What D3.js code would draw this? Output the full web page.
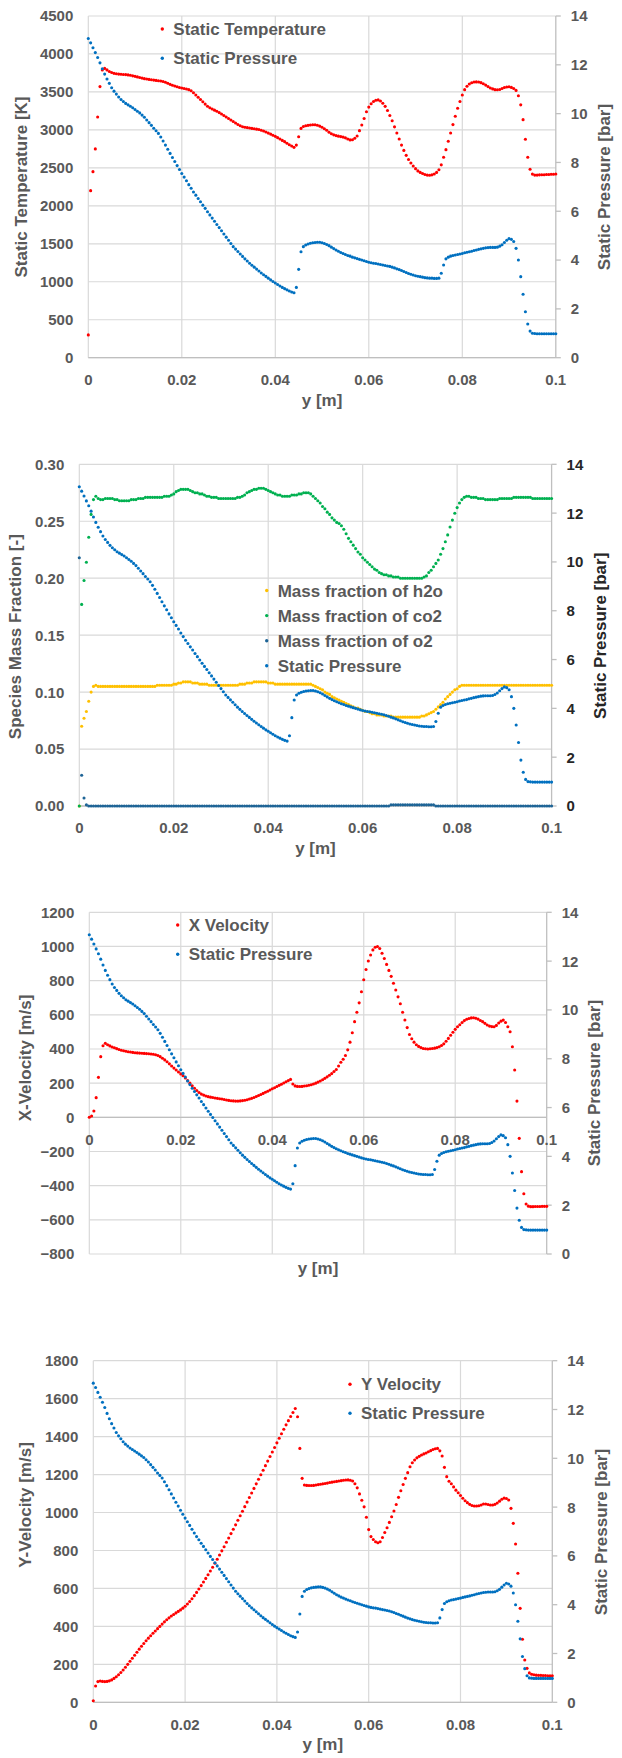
<!DOCTYPE html>
<meta charset="utf-8">
<style>
body { margin: 0; background: #fff; }
svg text { font-family: "Liberation Sans", Arial, sans-serif; font-weight: bold; fill: #595959; }
</style>
<svg width="622" height="1758"></svg>
<script src="https://d3js.org/d3.v7.min.js"></script>
<script>
"use strict";

// sample spacing along y [m] (201 points from 0 to 0.1)
var yStep = 0.0005;
var positions = d3.range(201).map(function(i) { return +(i * yStep).toFixed(4); });

// tick labels
var xTicks = [0, 0.02, 0.04, 0.06, 0.08, 0.1];
var pressureTicks = [0, 2, 4, 6, 8, 10, 12, 14];
var temperatureTicks = [0, 500, 1000, 1500, 2000, 2500, 3000, 3500, 4000, 4500];
var fractionTicks = [0, 0.05, 0.10, 0.15, 0.20, 0.25, 0.30];
var xVelocityTicks = [-800, -600, -400, -200, 0, 200, 400, 600, 800, 1000, 1200];
var yVelocityTicks = [0, 200, 400, 600, 800, 1000, 1200, 1400, 1600, 1800];

// static pressure [bar]
var pressure = [
  13.08, 12.90, 12.70, 12.50, 12.30, 12.08, 11.84, 11.62, 11.42, 11.24,
  11.06, 10.92, 10.80, 10.68, 10.58, 10.50, 10.42, 10.36, 10.30, 10.24,
  10.17, 10.10, 10.03, 9.94, 9.85, 9.74, 9.63, 9.52, 9.40, 9.30,
  9.19, 9.04, 8.88, 8.71, 8.54, 8.37, 8.20, 8.04, 7.87, 7.71,
  7.55, 7.40, 7.25, 7.09, 6.94, 6.79, 6.66, 6.52, 6.39, 6.25,
  6.12, 5.98, 5.85, 5.72, 5.59, 5.46, 5.33, 5.20, 5.07, 4.94,
  4.81, 4.68, 4.55, 4.45, 4.35, 4.25, 4.15, 4.05, 3.96, 3.87,
  3.79, 3.71, 3.63, 3.55, 3.47, 3.40, 3.33, 3.26, 3.19, 3.12,
  3.06, 3.00, 2.94, 2.88, 2.83, 2.78, 2.73, 2.69, 2.66, 2.88,
  3.62, 4.34, 4.55, 4.62, 4.66, 4.69, 4.71, 4.72, 4.73, 4.73,
  4.71, 4.68, 4.64, 4.59, 4.53, 4.47, 4.41, 4.36, 4.31, 4.27,
  4.23, 4.19, 4.16, 4.12, 4.09, 4.06, 4.03, 4.00, 3.97, 3.94,
  3.91, 3.89, 3.87, 3.86, 3.84, 3.82, 3.80, 3.78, 3.76, 3.74,
  3.71, 3.68, 3.64, 3.61, 3.57, 3.53, 3.49, 3.45, 3.42, 3.39,
  3.36, 3.34, 3.32, 3.30, 3.28, 3.27, 3.26, 3.26, 3.25, 3.25,
  3.26, 3.46, 3.80, 4.05, 4.12, 4.16, 4.19, 4.21, 4.23, 4.25,
  4.27, 4.30, 4.32, 4.34, 4.36, 4.39, 4.41, 4.44, 4.46, 4.48,
  4.50, 4.51, 4.52, 4.52, 4.52, 4.53, 4.57, 4.63, 4.72, 4.81,
  4.88, 4.85, 4.76, 4.48, 4.00, 3.32, 2.60, 1.88, 1.38, 1.09,
  1.00, 0.99, 0.98, 0.98, 0.98, 0.98, 0.98, 0.98, 0.98, 0.98,
  0.98
];

// static temperature [K]
var temperature = [
  300, 2200, 2450, 2750, 3170, 3570, 3790, 3810, 3790, 3770,
  3755, 3745, 3740, 3735, 3732, 3730, 3728, 3724, 3720, 3712,
  3705, 3698, 3690, 3682, 3675, 3670, 3665, 3660, 3656, 3652,
  3648, 3644, 3638, 3628, 3615, 3600, 3588, 3578, 3568, 3558,
  3552, 3545, 3538, 3530, 3515, 3490, 3460, 3430, 3400, 3370,
  3340, 3312, 3292, 3275, 3260, 3245, 3228, 3210, 3190, 3170,
  3150, 3130, 3110, 3090, 3072, 3055, 3042, 3035, 3030, 3025,
  3020, 3015, 3010, 3005, 2995, 2985, 2972, 2958, 2945, 2930,
  2915, 2898, 2880, 2862, 2845, 2825, 2805, 2788, 2770, 2800,
  2910, 3020, 3045, 3055, 3060, 3065, 3068, 3068, 3062, 3050,
  3035, 3015, 2995, 2970, 2950, 2935, 2925, 2918, 2912, 2905,
  2895, 2880, 2868, 2870, 2890, 2920, 2990, 3065, 3150, 3240,
  3300, 3345, 3375, 3390, 3395, 3380, 3350, 3310, 3255, 3190,
  3120, 3040, 2960, 2880, 2800, 2730, 2665, 2610, 2565, 2525,
  2490, 2460, 2440, 2425, 2412, 2405, 2402, 2408, 2420, 2440,
  2475, 2540, 2640, 2740, 2850, 2960, 3070, 3180, 3285, 3375,
  3460, 3530, 3575, 3605, 3620, 3630, 3632, 3630, 3622, 3608,
  3590, 3570, 3552, 3540, 3530, 3528, 3532, 3545, 3558, 3565,
  3568, 3560, 3545, 3520, 3450, 3330, 3135, 2876, 2640, 2481,
  2418, 2405, 2405, 2408, 2410, 2410, 2412, 2412, 2415, 2415,
  2420
];

// mass fraction of h2o [-]
var h2o = [
  0.000, 0.070, 0.077, 0.083, 0.092, 0.100, 0.105, 0.106, 0.105, 0.105,
  0.105, 0.105, 0.105, 0.105, 0.105, 0.105, 0.105, 0.105, 0.105, 0.105,
  0.105, 0.105, 0.105, 0.105, 0.105, 0.105, 0.105, 0.105, 0.105, 0.105,
  0.105, 0.105, 0.105, 0.106, 0.106, 0.106, 0.106, 0.106, 0.106, 0.106,
  0.107, 0.107, 0.108, 0.108, 0.109, 0.109, 0.109, 0.109, 0.108, 0.108,
  0.108, 0.107, 0.107, 0.107, 0.107, 0.106, 0.106, 0.106, 0.106, 0.106,
  0.106, 0.106, 0.106, 0.106, 0.106, 0.106, 0.106, 0.106, 0.107, 0.107,
  0.107, 0.108, 0.108, 0.108, 0.109, 0.109, 0.109, 0.109, 0.109, 0.109,
  0.108, 0.108, 0.108, 0.107, 0.107, 0.107, 0.107, 0.107, 0.107, 0.107,
  0.107, 0.107, 0.107, 0.107, 0.107, 0.107, 0.107, 0.107, 0.107, 0.106,
  0.105, 0.104, 0.103, 0.102, 0.100, 0.099, 0.098, 0.096, 0.095, 0.094,
  0.093, 0.092, 0.091, 0.090, 0.089, 0.088, 0.087, 0.086, 0.086, 0.085,
  0.084, 0.083, 0.083, 0.082, 0.081, 0.081, 0.080, 0.080, 0.080, 0.079,
  0.079, 0.079, 0.079, 0.078, 0.078, 0.078, 0.078, 0.078, 0.078, 0.078,
  0.078, 0.078, 0.078, 0.078, 0.078, 0.079, 0.079, 0.080, 0.081, 0.082,
  0.083, 0.085, 0.087, 0.089, 0.091, 0.094, 0.096, 0.098, 0.100, 0.102,
  0.103, 0.105, 0.106, 0.106, 0.106, 0.106, 0.106, 0.106, 0.106, 0.106,
  0.106, 0.106, 0.106, 0.106, 0.106, 0.106, 0.106, 0.106, 0.106, 0.106,
  0.106, 0.106, 0.106, 0.106, 0.106, 0.106, 0.106, 0.106, 0.106, 0.106,
  0.106, 0.106, 0.106, 0.106, 0.106, 0.106, 0.106, 0.106, 0.106, 0.106,
  0.106
];

// mass fraction of co2 [-]
var co2 = [
  0.000, 0.177, 0.198, 0.214, 0.236, 0.256, 0.269, 0.272, 0.270, 0.269,
  0.269, 0.270, 0.270, 0.270, 0.270, 0.269, 0.269, 0.268, 0.268, 0.268,
  0.268, 0.268, 0.269, 0.269, 0.269, 0.270, 0.270, 0.270, 0.271, 0.271,
  0.271, 0.271, 0.271, 0.271, 0.271, 0.271, 0.272, 0.272, 0.272, 0.273,
  0.274, 0.276, 0.277, 0.278, 0.278, 0.278, 0.278, 0.277, 0.276, 0.275,
  0.275, 0.274, 0.274, 0.273, 0.272, 0.272, 0.271, 0.271, 0.271, 0.270,
  0.270, 0.270, 0.270, 0.270, 0.270, 0.270, 0.270, 0.271, 0.271, 0.272,
  0.273, 0.275, 0.276, 0.277, 0.278, 0.278, 0.279, 0.279, 0.279, 0.278,
  0.277, 0.276, 0.275, 0.274, 0.273, 0.273, 0.272, 0.272, 0.272, 0.272,
  0.273, 0.273, 0.273, 0.274, 0.274, 0.275, 0.275, 0.275, 0.274, 0.272,
  0.270, 0.268, 0.266, 0.263, 0.261, 0.258, 0.256, 0.253, 0.251, 0.249,
  0.248, 0.246, 0.243, 0.239, 0.235, 0.232, 0.229, 0.226, 0.223, 0.221,
  0.218, 0.216, 0.214, 0.212, 0.210, 0.208, 0.207, 0.205, 0.204, 0.203,
  0.203, 0.202, 0.202, 0.201, 0.201, 0.201, 0.200, 0.200, 0.200, 0.200,
  0.200, 0.200, 0.200, 0.200, 0.200, 0.200, 0.201, 0.202, 0.205, 0.207,
  0.210, 0.213, 0.216, 0.221, 0.226, 0.232, 0.238, 0.245, 0.251, 0.257,
  0.262, 0.266, 0.269, 0.271, 0.272, 0.272, 0.271, 0.271, 0.271, 0.270,
  0.270, 0.270, 0.269, 0.269, 0.269, 0.269, 0.269, 0.269, 0.270, 0.270,
  0.270, 0.270, 0.270, 0.270, 0.271, 0.271, 0.271, 0.271, 0.271, 0.271,
  0.271, 0.271, 0.270, 0.270, 0.270, 0.270, 0.270, 0.270, 0.270, 0.270,
  0.270
];

// mass fraction of o2 [-]
var o2 = [
  0.218, 0.027, 0.007, 0.001, 0, 0, 0, 0, 0, 0,
  0, 0, 0, 0, 0, 0, 0, 0, 0, 0,
  0, 0, 0, 0, 0, 0, 0, 0, 0, 0,
  0, 0, 0, 0, 0, 0, 0, 0, 0, 0,
  0, 0, 0, 0, 0, 0, 0, 0, 0, 0,
  0, 0, 0, 0, 0, 0, 0, 0, 0, 0,
  0, 0, 0, 0, 0, 0, 0, 0, 0, 0,
  0, 0, 0, 0, 0, 0, 0, 0, 0, 0,
  0, 0, 0, 0, 0, 0, 0, 0, 0, 0,
  0, 0, 0, 0, 0, 0, 0, 0, 0, 0,
  0, 0, 0, 0, 0, 0, 0, 0, 0, 0,
  0, 0, 0, 0, 0, 0, 0, 0, 0, 0,
  0, 0, 0, 0, 0, 0, 0, 0, 0, 0,
  0, 0, 0.001, 0.001, 0.001, 0.001, 0.001, 0.001, 0.001, 0.001,
  0.001, 0.001, 0.001, 0.001, 0.001, 0.001, 0.001, 0.001, 0.001, 0.001,
  0.001, 0, 0, 0, 0, 0, 0, 0, 0, 0,
  0, 0, 0, 0, 0, 0, 0, 0, 0, 0,
  0, 0, 0, 0, 0, 0, 0, 0, 0, 0,
  0, 0, 0, 0, 0, 0, 0, 0, 0, 0,
  0, 0, 0, 0, 0, 0, 0, 0, 0, 0,
  0
];

// x velocity [m/s]
var xVelocity = [
  0, 8, 37, 115, 234, 355, 419, 433, 425, 418,
  412, 407, 402, 397, 393, 390, 387, 384, 382, 380,
  378, 377, 376, 375, 374, 373, 372, 371, 369, 366,
  362, 355, 346, 336, 325, 313, 300, 288, 277, 265,
  254, 243, 230, 215, 200, 185, 170, 157, 145, 136,
  130, 125, 121, 118, 116, 113, 111, 109, 107, 104,
  101, 99, 97, 96, 95, 95, 96, 98, 100, 103,
  107, 111, 116, 122, 128, 134, 140, 147, 153, 160,
  167, 173, 180, 187, 194, 201, 208, 215, 222, 195,
  184, 181, 180, 181, 183, 185, 188, 191, 195, 200,
  206, 213, 220, 228, 237, 246, 256, 268, 280, 300,
  322, 340, 362, 395, 440, 495, 560, 615, 670, 735,
  805, 865, 915, 950, 980, 995, 1000, 988, 960, 930,
  895, 860, 825, 785, 745, 705, 665, 615, 570, 525,
  485, 460, 440, 425, 415, 408, 403, 401, 400, 401,
  403, 405, 408, 413, 420, 430, 445, 462, 480, 498,
  515, 530, 542, 555, 566, 574, 578, 582, 583, 580,
  575, 567, 560, 550, 540, 534, 531, 530, 538, 552,
  563, 569, 555, 530, 501, 413, 277, 95, -123, -318,
  -447, -507, -520, -523, -523, -522, -522, -522, -521, -521,
  -521
];

// y velocity [m/s]
var yVelocity = [
  8, 86, 109, 112, 110, 109, 110, 113, 118, 126,
  135, 145, 157, 170, 185, 200, 216, 232, 248, 264,
  280, 295, 310, 324, 338, 351, 364, 376, 388, 400,
  412, 424, 435, 445, 455, 463, 471, 479, 487, 496,
  506, 518, 531, 546, 562, 579, 597, 615, 634, 653,
  672, 692, 712, 733, 754, 776, 798, 820, 843, 866,
  889, 912, 935, 959, 983, 1007, 1031, 1055, 1079, 1103,
  1127, 1151, 1175, 1199, 1223, 1247, 1271, 1295, 1319, 1343,
  1367, 1391, 1415, 1439, 1462, 1484, 1506, 1527, 1548, 1505,
  1338, 1180, 1145, 1143, 1142, 1142, 1143, 1145, 1147, 1149,
  1151, 1153, 1155, 1158, 1160, 1162, 1164, 1166, 1168, 1170,
  1171, 1172, 1170, 1166, 1152, 1130, 1098, 1065, 1030, 975,
  910, 873, 858, 846, 841, 846, 868, 895, 920, 948,
  978, 1008, 1042, 1080, 1115, 1148, 1180, 1210, 1241, 1262,
  1277, 1288, 1296, 1303, 1309, 1314, 1320, 1326, 1332, 1336,
  1338, 1325, 1298, 1238, 1189, 1165, 1152, 1135, 1118, 1104,
  1090, 1075, 1062, 1052, 1043, 1037, 1034, 1034, 1036, 1040,
  1045, 1045, 1042, 1040, 1040, 1043, 1050, 1060, 1070, 1076,
  1074, 1066, 1022, 943, 834, 680, 495, 332, 223, 179,
  155, 148, 145, 143, 142, 142, 141, 141, 140, 140,
  140
];

var red = "#ff0000", blue = "#0070c0", green = "#00b050", gold = "#ffc000", navy = "#1e6496";
var svg = d3.select("svg");

function drawChart(c) {
  var g = svg.append("g");
  var x = d3.scaleLinear().domain([0, 0.1]).range([c.left, c.right]);
  var yL = d3.scaleLinear().domain(d3.extent(c.leftTicks)).range([c.bottom, c.top]);
  var yR = d3.scaleLinear().domain([0, 14]).range([c.bottom, c.top]);
  var axisY = yL(c.axisAt || 0);

  // grid
  g.selectAll(".hg").data(c.leftTicks).enter().append("line")
      .attr("x1", c.left).attr("x2", c.right)
      .attr("y1", function(d) { return yL(d); }).attr("y2", function(d) { return yL(d); })
      .attr("stroke", "#d9d9d9").attr("stroke-width", 1.2);
  g.selectAll(".vg").data(xTicks.slice(0, -1)).enter().append("line")
      .attr("x1", function(d) { return x(d); }).attr("x2", function(d) { return x(d); })
      .attr("y1", c.top).attr("y2", c.bottom)
      .attr("stroke", "#d9d9d9").attr("stroke-width", 1.2);

  // axis lines
  g.append("line").attr("x1", c.left).attr("x2", c.right).attr("y1", axisY).attr("y2", axisY)
      .attr("stroke", "#bfbfbf").attr("stroke-width", 1.3);
  g.append("line").attr("x1", c.right).attr("x2", c.right).attr("y1", c.top).attr("y2", c.bottom)
      .attr("stroke", "#bfbfbf").attr("stroke-width", 1.3);
  g.selectAll(".rt").data(pressureTicks).enter().append("line")
      .attr("x1", c.right).attr("x2", c.right + 5)
      .attr("y1", function(d) { return yR(d); }).attr("y2", function(d) { return yR(d); })
      .attr("stroke", "#bfbfbf").attr("stroke-width", 1.3);

  // tick labels
  g.selectAll(".lt").data(c.leftTicks).enter().append("text")
      .attr("x", c.left - 15).attr("y", function(d) { return yL(d) + 5.4; })
      .attr("text-anchor", "end").style("font-size", "15px")
      .text(c.leftFormat);
  g.selectAll(".rl").data(pressureTicks).enter().append("text")
      .attr("x", c.right + 15).attr("y", function(d) { return yR(d) + 5.4; })
      .style("font-size", "15px").style("fill", c.rightColor)
      .text(function(d) { return d; });
  g.selectAll(".xl").data(xTicks).enter().append("text")
      .attr("x", function(d) { return x(d); }).attr("y", axisY + 27.4)
      .attr("text-anchor", "middle").style("font-size", "15px")
      .text(function(d) { return String(d); });

  // titles
  g.append("text").attr("text-anchor", "middle").style("font-size", "17px")
      .attr("transform", "translate(" + (c.leftTitle[0] + 5) + "," + c.leftTitle[1] + ") rotate(-90)")
      .text(c.leftLabel);
  g.append("text").attr("text-anchor", "middle").style("font-size", "17px").style("fill", c.rightColor)
      .attr("transform", "translate(" + (c.rightTitle[0] + 5) + "," + c.rightTitle[1] + ") rotate(-90)")
      .text("Static Pressure [bar]");
  g.append("text").attr("text-anchor", "middle").style("font-size", "17px")
      .attr("x", (c.left + c.right) / 2).attr("y", c.xTitleY + 4.4)
      .text("y [m]");

  // series
  c.series.forEach(function(s) {
    var sy = s.right ? yR : yL;
    g.append("g").selectAll("circle").data(s.values).enter().append("circle")
        .attr("cx", function(d, i) { return x(positions[i]); })
        .attr("cy", function(d) { return sy(d); })
        .attr("r", 1.55)
        .attr("fill", s.color);
  });

  // legend
  c.series.forEach(function(s, i) {
    var ly = c.legend.y + i * c.legend.dy;
    g.append("circle").attr("cx", c.legend.x).attr("cy", ly).attr("r", 1.7).attr("fill", s.color);
    g.append("text").attr("x", c.legend.x + 11).attr("y", ly + 6)
        .style("font-size", "17px").text(s.name);
  });
}

drawChart({
  left: 88.3, right: 555.8, top: 16, bottom: 357.7,
  leftTicks: temperatureTicks, leftFormat: d3.format("d"),
  leftLabel: "Static Temperature [K]", leftTitle: [21.8, 187], rightTitle: [605, 187],
  rightColor: "#595959", xTitleY: 401.7,
  legend: { x: 162.3, y: 29, dy: 29.3 },
  series: [
    { name: "Static Temperature", values: temperature, color: red },
    { name: "Static Pressure", values: pressure, color: blue, right: true }
  ]
});

drawChart({
  left: 79.3, right: 551.6, top: 464.3, bottom: 806,
  leftTicks: fractionTicks, leftFormat: d3.format(".2f"),
  leftLabel: "Species Mass Fraction [-]", leftTitle: [15.9, 636.7], rightTitle: [601, 635.8],
  rightColor: "#262626", xTitleY: 850,
  legend: { x: 266.7, y: 590.5, dy: 25.1 },
  series: [
    { name: "Mass fraction of h2o", values: h2o, color: gold },
    { name: "Mass fraction of co2", values: co2, color: green },
    { name: "Mass fraction of o2", values: o2, color: navy },
    { name: "Static Pressure", values: pressure, color: blue, right: true }
  ]
});

drawChart({
  left: 89.3, right: 546.7, top: 912.3, bottom: 1254,
  leftTicks: xVelocityTicks, leftFormat: d3.format("d"), axisAt: 0,
  leftLabel: "X-Velocity [m/s]", leftTitle: [25.7, 1058], rightTitle: [595, 1083],
  rightColor: "#595959", xTitleY: 1270,
  legend: { x: 177.7, y: 925, dy: 29.3 },
  series: [
    { name: "X Velocity", values: xVelocity, color: red },
    { name: "Static Pressure", values: pressure, color: blue, right: true }
  ]
});

drawChart({
  left: 93.3, right: 552.3, top: 1360.7, bottom: 1702.3,
  leftTicks: yVelocityTicks, leftFormat: d3.format("d"),
  leftLabel: "Y-Velocity [m/s]", leftTitle: [25.8, 1505], rightTitle: [602, 1532],
  rightColor: "#595959", xTitleY: 1746,
  legend: { x: 350, y: 1384.3, dy: 29 },
  series: [
    { name: "Y Velocity", values: yVelocity, color: red },
    { name: "Static Pressure", values: pressure, color: blue, right: true }
  ]
});
</script>
